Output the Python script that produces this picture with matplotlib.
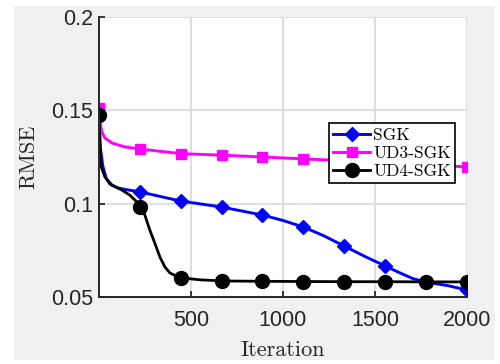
import matplotlib
matplotlib.use("Agg")
import matplotlib.pyplot as plt
from matplotlib.patches import Rectangle

# ---- data ----
marker_iters = [1, 223, 445, 667, 889, 1111, 1333, 1556, 1778, 2000]

sgk_x = [1, 8, 22, 40, 60, 100, 150, 223, 445, 667, 889, 1000, 1111, 1222, 1333,
         1450, 1556, 1636, 1707, 1778, 1900, 2000]
sgk_y = [0.148, 0.130, 0.120, 0.1135, 0.1105, 0.1085, 0.1075, 0.1063, 0.1014, 0.0982,
         0.0939, 0.0910, 0.0875, 0.0828, 0.0773, 0.0715, 0.0666, 0.0629, 0.0598,
         0.0580, 0.0560, 0.0537]

ud3_x = [1, 8, 16, 33, 71, 141, 223, 445, 667, 889, 1111, 1333, 1556, 1778, 2000]
ud3_y = [0.1512, 0.143, 0.1384, 0.1352, 0.1325, 0.1304, 0.1293, 0.1268, 0.1260,
         0.1250, 0.1240, 0.1230, 0.1220, 0.1208, 0.1197]

ud4_x = [1, 5, 10, 14, 33, 71, 125, 168, 207, 223, 250, 277, 304, 332, 359, 386,
         424, 445, 550, 667, 889, 1111, 1333, 1556, 1778, 2000]
ud4_y = [0.1475, 0.135, 0.124, 0.1196, 0.1143, 0.1100, 0.1073, 0.1046, 0.1009,
         0.0982, 0.0939, 0.0859, 0.0789, 0.0714, 0.0661, 0.0629, 0.0610, 0.0603,
         0.0592, 0.0586, 0.0584, 0.0583, 0.0582, 0.0582, 0.0581, 0.0581]

labels = ["SGK", "UD3-SGK", "UD4-SGK"]
xticks = [500, 1000, 1500, 2000]
yticks = [0.05, 0.1, 0.15, 0.2]
yticklabels = ["0.05", "0.1", "0.15", "0.2"]

# ---- figure ----
fig = plt.figure(figsize=(5.0, 3.64), dpi=100, facecolor="white")
fig.patches.append(Rectangle((14 / 500, 1 - 360 / 364), (495 - 14) / 500, (360 - 6) / 364,
                             transform=fig.transFigure, facecolor="#f0f0f0",
                             edgecolor="none", zorder=-10))
ax = fig.add_axes([99 / 500, 1 - 297 / 364, (467 - 99) / 500, (297 - 17) / 364])
ax.set_facecolor("white")
ax.set_zorder(1)


def marks(xs):
    return [i for i, v in enumerate(xs) if v in marker_iters]


ax.plot(sgk_x, sgk_y, color="#0000ff", lw=2.1, marker="D", ms=7.5,
        markevery=marks(sgk_x), label=labels[0], zorder=3)
ax.plot(ud3_x, ud3_y, color="#ff00ff", lw=2.1, marker="s", ms=7.5,
        markevery=marks(ud3_x), label=labels[1], zorder=3)
ax.plot(ud4_x, ud4_y, color="black", lw=2.0, marker="o", ms=10,
        markevery=marks(ud4_x), label=labels[2], zorder=4)

ax.set_xlim(1, 2000)
ax.set_ylim(0.05, 0.2)
ax.set_xticks(xticks)
ax.set_xticklabels([str(t) for t in xticks])
ax.set_yticks(yticks)
ax.set_yticklabels(yticklabels)

ax.grid(True, color="#dedede", lw=1.5)
ax.set_axisbelow(True)
for s in ["top", "right"]:
    ax.spines[s].set_visible(False)
for s in ["left", "bottom"]:
    ax.spines[s].set_linewidth(1.4)
    ax.spines[s].set_color("#262626")
    ax.spines[s].set_zorder(5)

ax.tick_params(axis="both", direction="in", length=4, width=1.3, color="#262626",
               labelcolor="#262626", labelsize=15.5)
ax.tick_params(axis="x", pad=9)
ax.tick_params(axis="y", pad=4)
for lab in ax.get_xticklabels() + ax.get_yticklabels():
    lab.set_fontfamily("Liberation Sans")

ax.set_xlabel("Iteration", fontfamily="cmr10", fontsize=16, color="#262626")
ax.set_ylabel("RMSE", fontfamily="cmr10", fontsize=16, color="#262626")
ax.xaxis.set_label_coords(0.5, -0.155)
ax.yaxis.set_label_coords(-0.165, 0.5)

leg = ax.legend(loc="upper left", bbox_to_anchor=(0.625, 0.621), fancybox=False,
                framealpha=1, edgecolor="black", prop={"family": "cmr10", "size": 12.5},
                handlelength=2.1, handletextpad=0.2, labelspacing=0.15,
                borderpad=0.25, borderaxespad=0)
leg.get_frame().set_linewidth(1.2)
leg.set_zorder(6)

fig.savefig("out.png", dpi=100, facecolor="white")
